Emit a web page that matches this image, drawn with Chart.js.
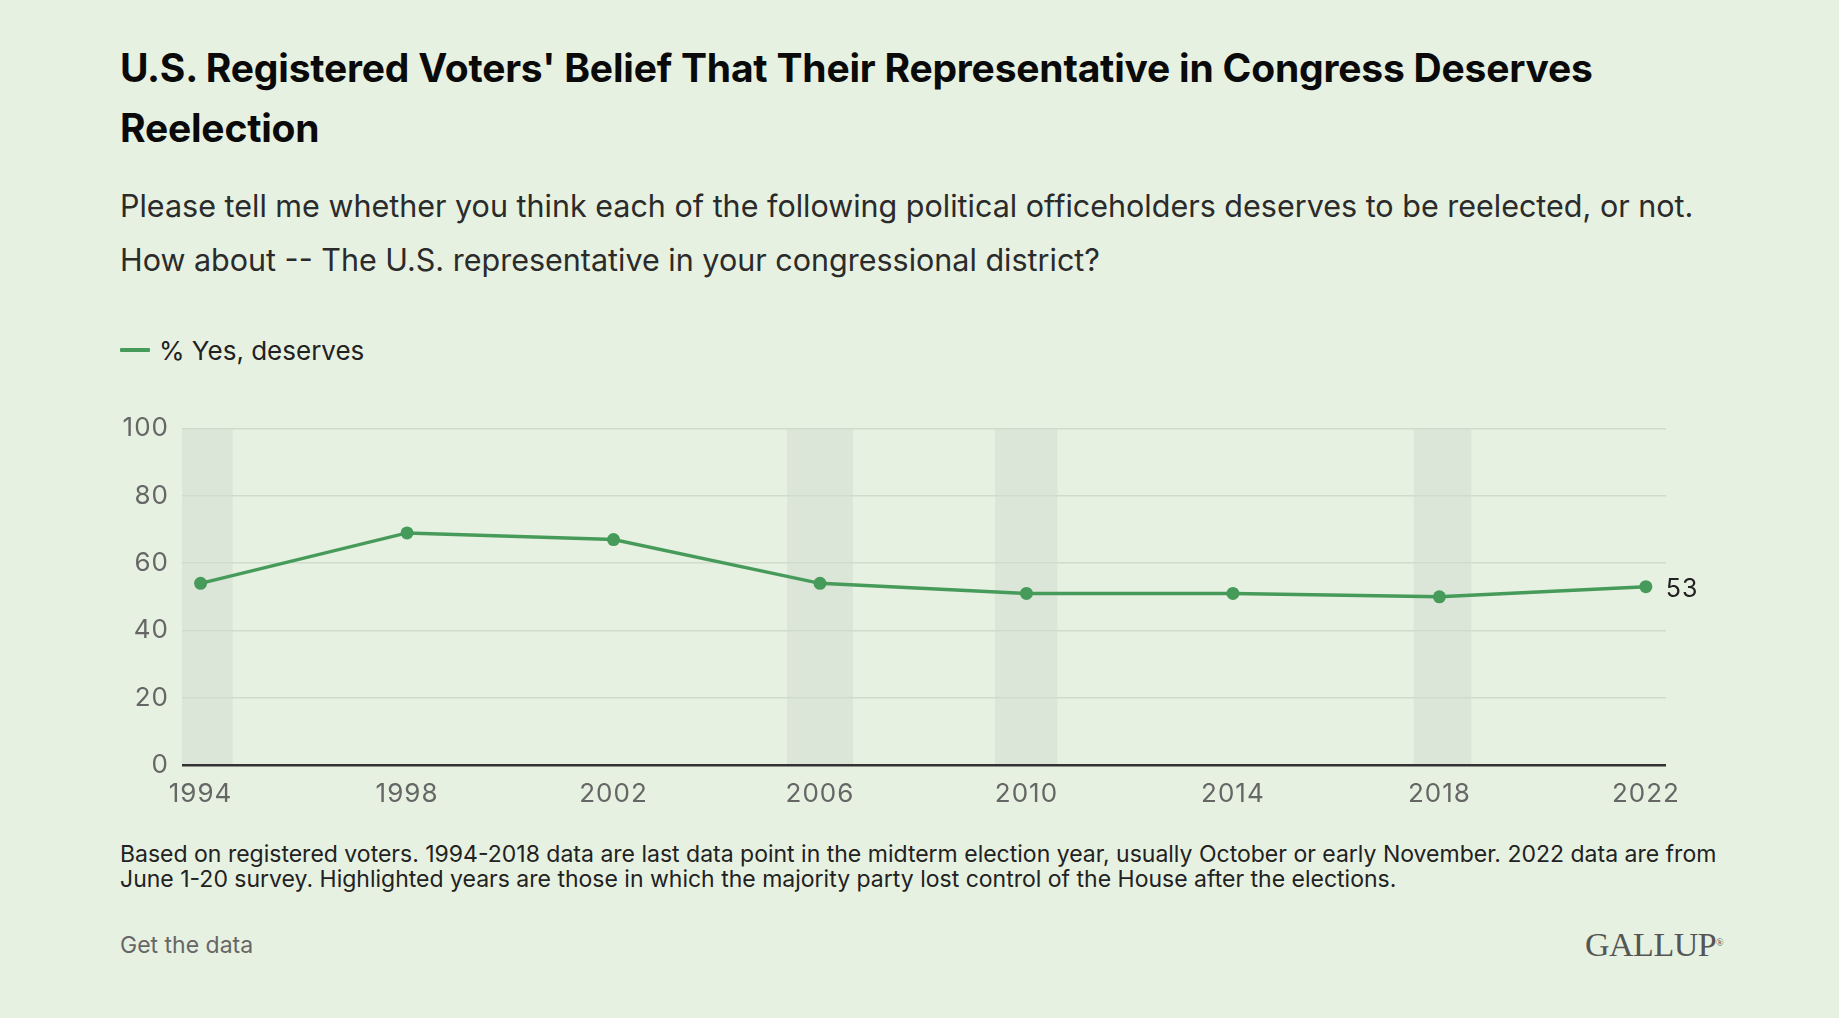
<!DOCTYPE html>
<html>
<head>
<meta charset="utf-8">
<script src="https://cdn.jsdelivr.net/npm/chart.js@4.4.1/dist/chart.umd.min.js"></script>
<style>
  html, body { margin:0; padding:0; }
  body { width:1839px; height:1018px; background:#e7f1e1; position:relative; overflow:hidden; font-family: Inter, "Noto Sans", sans-serif; }
  .abs { position:absolute; white-space:nowrap; }
  #title { left:120px; top:38px; font-size:39px; line-height:60px; font-weight:700; color:#0a0a0a; letter-spacing:-0.2px; }
  #subtitle { left:120px; top:179px; font-size:30.5px; line-height:54px; color:#2b2b2b; }
  #legend { left:120px; top:335px; height:30px; display:flex; align-items:center; font-size:26px; color:#222; }
  #legend .sw { width:30px; height:4px; background:#479b5a; margin-right:9px; border-radius:1px; }
  #note { left:120px; top:842px; font-size:23px; line-height:25px; color:#222; }
  #getdata { left:120px; top:931px; font-size:23px; line-height:28px; color:#666; }
  #gallup { left:1585px; top:924px; font-family:"Liberation Serif","DejaVu Serif",serif; font-size:34px; line-height:42px; color:#555; letter-spacing:-0.5px; }
  #gallup sup { font-size:10px; vertical-align:top; position:relative; top:-2px; }
  #wrap { position:absolute; left:120px; top:400px; width:1600px; height:430px; }
</style>
</head>
<body>
<div id="title" class="abs">U.S. Registered Voters' Belief That Their Representative in Congress Deserves<br>Reelection</div>
<div id="subtitle" class="abs">Please tell me whether you think each of the following political officeholders deserves to be reelected, or not.<br>How about -- The U.S. representative in your congressional district?</div>
<div id="legend" class="abs"><span class="sw"></span><span id="legendText">% Yes, deserves</span></div>
<div id="wrap"><canvas id="c"></canvas></div>
<div id="note" class="abs">Based on registered voters. 1994-2018 data are last data point in the midterm election year, usually October or early November. 2022 data are from<br>June 1-20 survey. Highlighted years are those in which the majority party lost control of the House after the elections.</div>
<div id="getdata" class="abs">Get the data</div>
<div id="gallup" class="abs">GALLUP<sup>®</sup></div>
<script>
// ---- data ----
const years = [1994, 1998, 2002, 2006, 2010, 2014, 2018, 2022];
const yesDeserves = [54, 69, 67, 54, 51, 51, 50, 53];
const seriesName = "% Yes, deserves";
const xTickValues = [1994, 1998, 2002, 2006, 2010, 2014, 2018, 2022];
const xTickLabels = ["1994", "1998", "2002", "2006", "2010", "2014", "2018", "2022"];
const yTickLabels = ["0", "20", "40", "60", "80", "100"];
// highlighted election years (majority party lost the House) and their shaded spans, in years
const highlightYears = [1994, 2006, 2010, 2018];
const highlightStart = [1993.38, 2005.36, 2009.39, 2017.5];
const highlightEnd = [1994.62, 2006.64, 2010.6, 2018.62];

// ---- styles ----
const GREEN = '#479b5a';
const BAND = '#dbe6d8';
const GRID = '#cfdbcb';
const FONT = 'Inter, "Noto Sans", sans-serif';

const bandsPlugin = {
  id: 'bands',
  beforeDraw(chart) {
    const {ctx, chartArea, scales} = chart;
    ctx.letterSpacing = '1px';
    ctx.save();
    ctx.fillStyle = BAND;
    highlightYears.forEach((yr, i) => {
      let x0 = scales.x.getPixelForValue(highlightStart[i]);
      let x1 = scales.x.getPixelForValue(highlightEnd[i]);
      x0 = Math.max(x0, chartArea.left);
      x1 = Math.min(x1, chartArea.right);
      const yTop = scales.y.getPixelForValue(100);
      const yBot = scales.y.getPixelForValue(0);
      ctx.fillRect(x0, yTop, x1 - x0, yBot - yTop);
    });
    ctx.restore();
  }
};

const lastLabelPlugin = {
  id: 'lastLabel',
  afterDatasetsDraw(chart) {
    const {ctx} = chart;
    const meta = chart.getDatasetMeta(0);
    const i = yesDeserves.length - 1;
    const pt = meta.data[i];
    ctx.save();
    ctx.font = '25px ' + FONT;
    ctx.fillStyle = '#222';
    ctx.textAlign = 'left';
    ctx.textBaseline = 'middle';
    ctx.fillText(String(yesDeserves[i]), pt.x + 20, pt.y + 3);
    ctx.restore();
  }
};

new Chart(document.getElementById('c'), {
  type: 'line',
  data: {
    datasets: [{
      label: seriesName,
      data: years.map((y, i) => ({x: y, y: yesDeserves[i]})),
      borderColor: GREEN,
      backgroundColor: GREEN,
      borderWidth: 3.5,
      pointRadius: 6.5,
      pointHoverRadius: 6.5,
      pointBorderWidth: 0,
      tension: 0,
      clip: false
    }]
  },
  options: {
    responsive: true,
    maintainAspectRatio: false,
    animation: false,
    events: [],
    layout: { padding: { top: 28, right: 54, left: 0, bottom: 0 } },
    plugins: { legend: { display: false }, tooltip: { enabled: false } },
    scales: {
      x: {
        type: 'linear',
        min: 1993.64,
        max: 2022.39,
        afterBuildTicks: (scale) => { scale.ticks = xTickValues.map(v => ({value: v})); },
        afterFit: (scale) => { scale.height = 65; },
        grid: { display: false, drawTicks: false },
        border: { display: false },
        ticks: {
          padding: 14,
          color: '#666',
          font: { family: FONT, size: 26 },
          maxRotation: 0,
          autoSkip: false,
          callback: (v, i) => xTickLabels[i]
        }
      },
      y: {
        min: 0,
        max: 100,
        afterBuildTicks: (scale) => { scale.ticks = yTickLabels.map(t => ({value: Number(t)})); },
        afterFit: (scale) => { scale.width = 62; },
        grid: {
          drawTicks: false,
          color: (c) => c.tick && c.tick.value === 0 ? '#333' : GRID,
          lineWidth: (c) => c.tick && c.tick.value === 0 ? 2.5 : 1.6
        },
        border: { display: false },
        ticks: {
          padding: 13,
          color: '#666',
          font: { family: FONT, size: 26 },
          callback: (v, i) => yTickLabels[i]
        }
      }
    }
  },
  plugins: [bandsPlugin, lastLabelPlugin]
});
</script>
</body>
</html>
